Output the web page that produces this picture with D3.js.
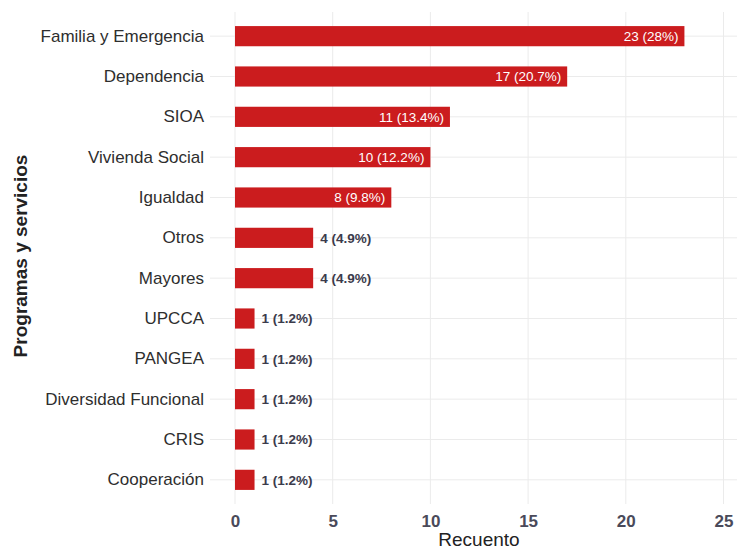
<!DOCTYPE html>
<html>
<head>
<meta charset="utf-8">
<script src="https://cdn.jsdelivr.net/npm/d3@7"></script>
<style>
  body { margin: 0; background: #fff; }
  text { font-family: "Liberation Sans", Arial, sans-serif; }
</style>
</head>
<body>
<div id="chart"></div>
<script>
// data
var categories = ["Familia y Emergencia", "Dependencia", "SIOA", "Vivienda Social", "Igualdad",
  "Otros", "Mayores", "UPCCA", "PANGEA", "Diversidad Funcional", "CRIS", "Cooperación"];
var counts = [23, 17, 11, 10, 8, 4, 4, 1, 1, 1, 1, 1];
var percents = ["28%", "20.7%", "13.4%", "12.2%", "9.8%", "4.9%", "4.9%", "1.2%", "1.2%", "1.2%", "1.2%", "1.2%"];
var xTicks = [0, 5, 10, 15, 20, 25];

var svgWidth = 738;
var svgHeight = 549;

var panel = { left: 210, right: 737, top: 12, bottom: 504 };

var rows = categories.map(function(c, i) {
  return { name: c, count: counts[i], label: counts[i] + " (" + percents[i] + ")" };
});

var svg = d3.select("#chart")
  .append("svg")
  .attr("width", svgWidth)
  .attr("height", svgHeight);

var xScale = d3.scaleLinear()
  .domain([0, 25])
  .range([235, 723.5]);

var yScale = d3.scaleBand()
  .domain(categories)
  .range([16, 500])
  .paddingInner(0.5)
  .paddingOuter(0.25);

// grid lines
var grid = svg.append("g");
grid.selectAll("line.v")
  .data(xTicks)
  .enter()
  .append("line")
  .attr("x1", d => xScale(d))
  .attr("x2", d => xScale(d))
  .attr("y1", panel.top)
  .attr("y2", panel.bottom)
  .attr("stroke", "#ebebeb")
  .attr("stroke-width", 1);

grid.selectAll("line.h")
  .data(categories)
  .enter()
  .append("line")
  .attr("x1", panel.left)
  .attr("x2", panel.right)
  .attr("y1", d => yScale(d) + yScale.bandwidth() / 2)
  .attr("y2", d => yScale(d) + yScale.bandwidth() / 2)
  .attr("stroke", "#ebebeb")
  .attr("stroke-width", 1);

// bars
svg.selectAll("rect.bar")
  .data(rows)
  .enter()
  .append("rect")
  .attr("class", "bar")
  .attr("x", xScale(0))
  .attr("y", d => yScale(d.name))
  .attr("width", d => xScale(d.count) - xScale(0))
  .attr("height", yScale.bandwidth())
  .attr("fill", "#cb1c1e");

// value labels: inside for the long bars, outside for short ones
svg.selectAll("text.val")
  .data(rows)
  .enter()
  .append("text")
  .attr("class", "val")
  .attr("x", d => d.count >= 8 ? xScale(d.count) - 6 : xScale(d.count) + 7)
  .attr("y", d => yScale(d.name) + yScale.bandwidth() / 2)
  .attr("dy", "0.36em")
  .attr("text-anchor", d => d.count >= 8 ? "end" : "start")
  .attr("font-size", "13.5px")
  .attr("font-weight", d => d.count >= 8 ? "normal" : "bold")
  .attr("fill", d => d.count >= 8 ? "#ffffff" : "#3b3b4c")
  .text(d => d.label);

// axes
var bottomAxis = d3.axisBottom(xScale)
  .tickValues(xTicks)
  .tickSize(0)
  .tickPadding(11);

var xAxisG = svg.append("g")
  .attr("transform", `translate(0, ${panel.bottom})`)
  .call(bottomAxis);
xAxisG.select(".domain").remove();
xAxisG.selectAll("text")
  .attr("font-size", "17px")
  .attr("font-weight", "bold")
  .attr("fill", "#4a4a5a")
  .style("font-family", "'Liberation Sans', Arial, sans-serif");

var leftAxis = d3.axisLeft(yScale)
  .tickSize(0)
  .tickPadding(6);

var yAxisG = svg.append("g")
  .attr("transform", `translate(${panel.left}, 0)`)
  .call(leftAxis);
yAxisG.select(".domain").remove();
yAxisG.selectAll("text")
  .attr("font-size", "17px")
  .attr("fill", "#2e2e2e")
  .style("font-family", "'Liberation Sans', Arial, sans-serif");

// axis titles
svg.append("text")
  .attr("x", 479)
  .attr("y", 546)
  .attr("text-anchor", "middle")
  .attr("font-size", "19px")
  .attr("fill", "#222")
  .text("Recuento");

svg.append("text")
  .attr("transform", "translate(27, 256) rotate(-90)")
  .attr("text-anchor", "middle")
  .attr("font-size", "19px")
  .attr("font-weight", "bold")
  .attr("fill", "#222")
  .text("Programas y servicios");
</script>
</body>
</html>
